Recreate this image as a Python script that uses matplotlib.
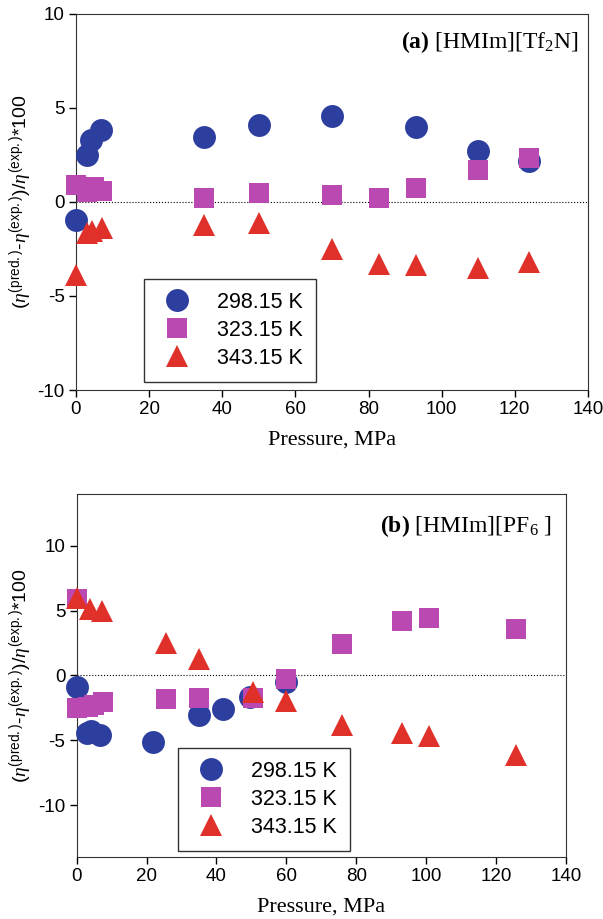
import numpy as np
import matplotlib
matplotlib.use("Agg")
import matplotlib.pyplot as plt

plt.rcParams["font.family"] = "Liberation Sans"
plt.rcParams["axes.unicode_minus"] = False
plt.rcParams["mathtext.fontset"] = "custom"
plt.rcParams["mathtext.rm"] = "Liberation Serif"
plt.rcParams["mathtext.sf"] = "Liberation Sans"
plt.rcParams["mathtext.it"] = "Liberation Serif:italic"
plt.rcParams["mathtext.bf"] = "Liberation Serif:bold"

# ---- data: (a) [HMIm][Tf2N] ----
a_p_298 = [0, 2.9, 4.2, 6.8, 35, 50, 70, 93, 110, 124]
a_d_298 = [-0.99, 2.5, 3.3, 3.8, 3.44, 4.06, 4.55, 3.99, 2.68, 2.19]
a_p_323 = [0, 3, 5, 7, 35, 50, 70, 83, 93, 110, 124]
a_d_323 = [0.9, 0.5, 0.8, 0.6, 0.18, 0.48, 0.34, 0.21, 0.74, 1.68, 2.33]
a_p_343 = [0, 3, 4.5, 7, 35, 50, 70, 83, 93, 110, 124]
a_d_343 = [-3.9, -1.65, -1.55, -1.4, -1.25, -1.15, -2.5, -3.3, -3.35, -3.5, -3.2]

# ---- data: (b) [HMIm][PF6] ----
b_p_298 = [0, 3, 4, 6.8, 21.8, 34.9, 41.9, 49.7, 60]
b_d_298 = [-0.9, -4.45, -4.3, -4.6, -5.17, -3.05, -2.6, -1.65, -0.5]
b_p_323 = [0, 0, 3.3, 5, 7.5, 25.6, 34.9, 50.4, 60, 75.9, 93, 100.9, 125.7]
b_d_323 = [5.9, -2.5, -2.4, -2.3, -2.05, -1.83, -1.7, -1.7, -0.25, 2.42, 4.17, 4.45, 3.6]
b_p_343 = [0, 3.9, 7.2, 25.6, 34.9, 50.4, 60, 75.9, 93, 100.9, 125.7]
b_d_343 = [6.0, 5.1, 5.0, 2.5, 1.3, -1.3, -2.0, -3.8, -4.45, -4.7, -6.1]

labels = ["298.15 K", "323.15 K", "343.15 K"]
colors = ["#2C3E9E", "#BA4AB2", "#E0302A"]
markers = ["o", "s", "^"]
sizes = [16.5, 14.5, 16.5]

ylab = (r"($\eta^{\mathsf{(pred.)}}$-$\eta^{\mathsf{(exp.)}}$)/"
        r"$\eta^{\mathsf{(exp.)}}$*100")

fig = plt.figure(figsize=(6.03, 9.19), dpi=100)
ax_a = fig.add_axes([0.126, 0.5756, 0.849, 0.4095])
ax_b = fig.add_axes([0.127, 0.0675, 0.812, 0.395])


def draw(ax, series, ylim, title, title_xy, leg_xy):
    for (p, d), lab, c, m, s in zip(series, labels, colors, markers, sizes):
        ax.plot(p, d, linestyle="none", marker=m, ms=s, color=c,
                markeredgewidth=0, label=lab, clip_on=False, zorder=3)
    ax.axhline(0, color="k", lw=0.8, ls=":", zorder=1)
    ax.set_xlim(0, 140)
    ax.set_ylim(*ylim)
    ax.set_xticks(np.arange(0, 141, 20))
    ax.set_yticks([-10, -5, 0, 5, 10])
    ax.tick_params(direction="out", length=5, labelsize=13.5, width=1, pad=3)
    for sp in ax.spines.values():
        sp.set_color("#333333")
    ax.set_xlabel("Pressure, MPa", family="Liberation Serif", fontsize=16,
                  labelpad=9)
    ax.set_ylabel(ylab, fontsize=14, labelpad=2)
    ax.text(title_xy[0], title_xy[1], title, transform=ax.transAxes, ha="right",
            va="baseline", family="Liberation Serif", fontsize=17)
    leg = ax.legend(loc="upper left", bbox_to_anchor=leg_xy, borderaxespad=0,
                    fontsize=15.5, frameon=True, fancybox=False, edgecolor="k",
                    handlelength=1.9, handletextpad=0.9, labelspacing=0.32,
                    borderpad=0.6, markerscale=1.0)
    leg.get_frame().set_linewidth(1.0)


draw(ax_a, [(a_p_298, a_d_298), (a_p_323, a_d_323), (a_p_343, a_d_343)],
     (-10, 10), r"$\mathbf{(a)}$ [HMIm][Tf$_2$N]", (0.982, 0.909), (0.133, 0.295))
draw(ax_b, [(b_p_298, b_d_298), (b_p_323, b_d_323), (b_p_343, b_d_343)],
     (-14, 14), r"$\mathbf{(b)}$ [HMIm][PF$_6$ ]", (0.971, 0.896), (0.207, 0.300))

fig.savefig("out.png", dpi=100)
